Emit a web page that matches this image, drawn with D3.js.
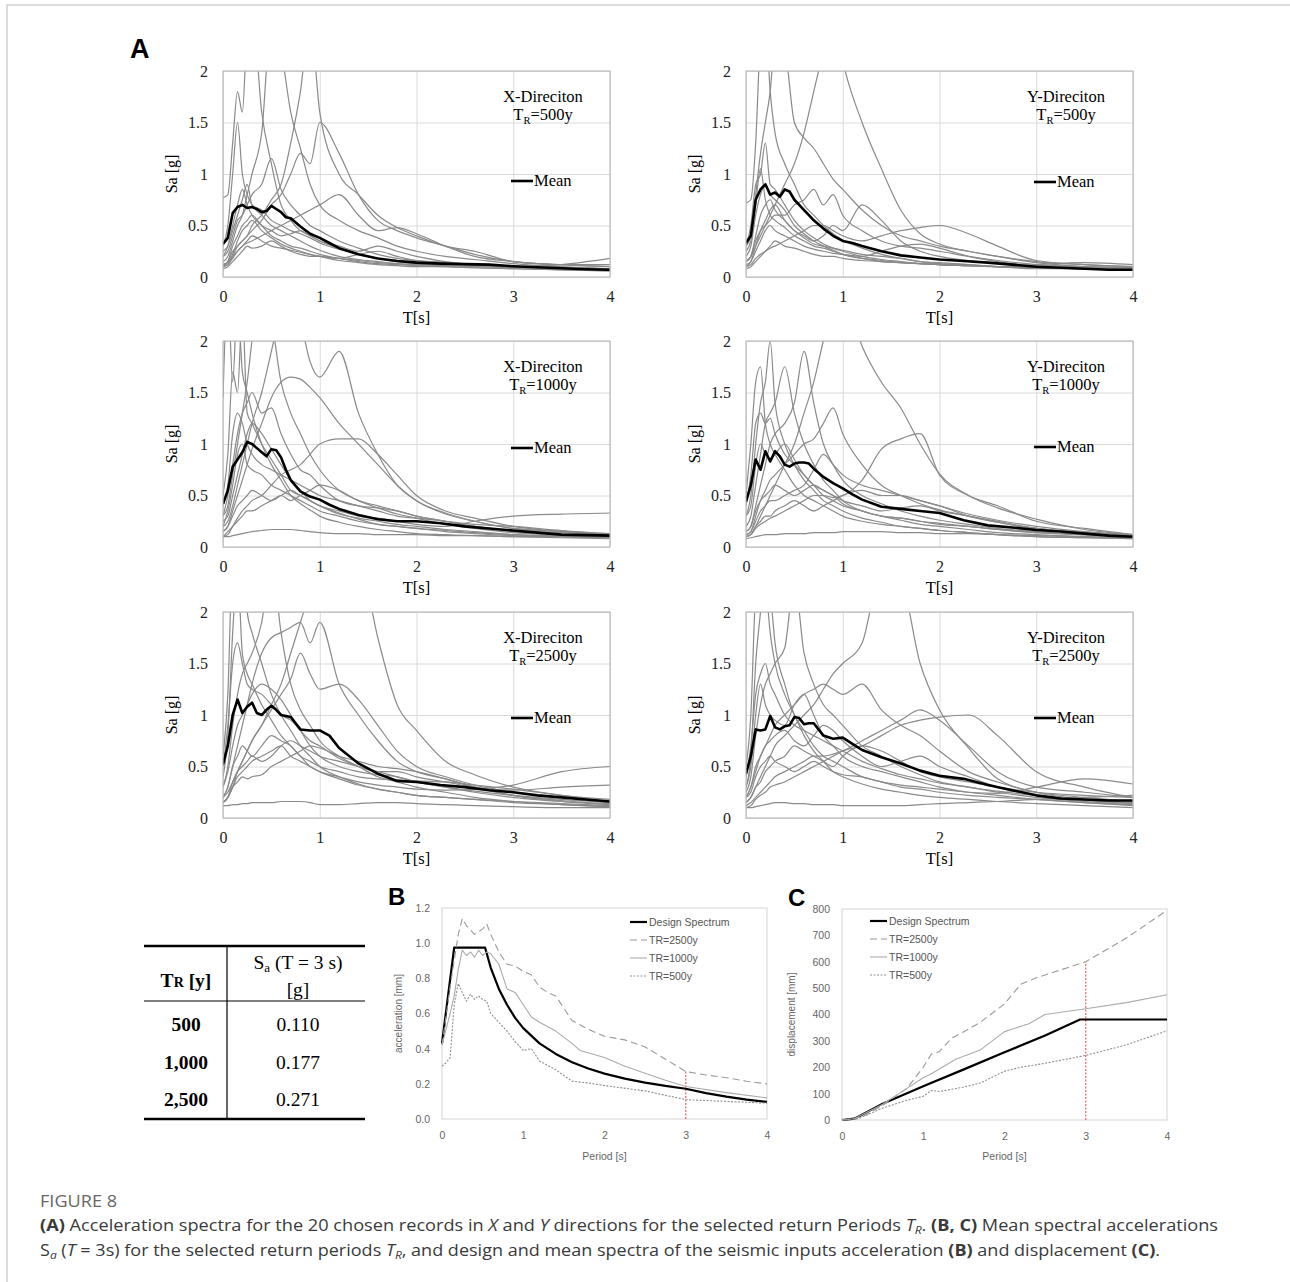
<!DOCTYPE html>
<html>
<head>
<meta charset="utf-8">
<script src="https://cdn.jsdelivr.net/npm/d3@7"></script>
<style>
  body { margin: 0; background: #fff; }
  svg { display: block; }
</style>
</head>
<body>
<svg id="fig" width="1290" height="1282"></svg>
<script>
// ---------- panel A: response spectra of the 20 records (subset traced) ----------
var periods = [0, 0.05, 0.1, 0.15, 0.2, 0.25, 0.3, 0.4, 0.5, 0.6, 0.7, 0.8, 0.9, 1.0, 1.2, 1.4, 1.6, 1.8, 2.0, 2.3, 2.6, 3.0, 3.5, 4.0];
var meanPeriods = [0, 0.05, 0.1, 0.15, 0.2, 0.25, 0.3, 0.35, 0.4, 0.45, 0.5, 0.55, 0.6, 0.65, 0.7, 0.8, 0.9, 1.0, 1.1, 1.2, 1.4, 1.6, 1.8, 2.0, 2.25, 2.5, 2.75, 3.0, 3.25, 3.5, 3.75, 4.0];
var saTicks = [0, 0.5, 1, 1.5, 2];
var tTicks = [0, 1, 2, 3, 4];

var meanX500 = [0.32, 0.38, 0.62, 0.68, 0.7, 0.67, 0.68, 0.66, 0.63, 0.64, 0.69, 0.66, 0.63, 0.58, 0.57, 0.49, 0.42, 0.38, 0.33, 0.28, 0.22, 0.18, 0.155, 0.14, 0.13, 0.125, 0.12, 0.105, 0.095, 0.085, 0.075, 0.07];
var meanY500 = [0.33, 0.4, 0.75, 0.85, 0.9, 0.8, 0.82, 0.78, 0.85, 0.83, 0.75, 0.7, 0.65, 0.6, 0.55, 0.47, 0.4, 0.35, 0.33, 0.3, 0.25, 0.21, 0.19, 0.17, 0.155, 0.14, 0.12, 0.1, 0.09, 0.08, 0.07, 0.07];
var meanX1000 = [0.42, 0.55, 0.78, 0.85, 0.92, 1.02, 1.0, 0.96, 0.92, 0.88, 0.95, 0.94, 0.87, 0.75, 0.65, 0.54, 0.49, 0.46, 0.41, 0.37, 0.31, 0.27, 0.25, 0.25, 0.23, 0.2, 0.18, 0.16, 0.14, 0.12, 0.115, 0.11];
var meanY1000 = [0.44, 0.6, 0.85, 0.75, 0.93, 0.83, 0.93, 0.88, 0.8, 0.78, 0.81, 0.82, 0.82, 0.81, 0.76, 0.68, 0.62, 0.57, 0.51, 0.46, 0.39, 0.37, 0.35, 0.33, 0.26, 0.21, 0.19, 0.165, 0.15, 0.13, 0.11, 0.1];
var meanX2500 = [0.52, 0.7, 1.0, 1.15, 1.02, 1.08, 1.12, 1.02, 1.0, 1.05, 1.09, 1.05, 1.0, 0.99, 0.98, 0.86, 0.85, 0.85, 0.8, 0.68, 0.53, 0.43, 0.36, 0.35, 0.32, 0.3, 0.27, 0.25, 0.22, 0.2, 0.18, 0.16];
var meanY2500 = [0.43, 0.6, 0.86, 0.85, 0.86, 0.99, 0.88, 0.86, 0.89, 0.9, 0.98, 0.97, 0.91, 0.92, 0.92, 0.8, 0.77, 0.78, 0.72, 0.66, 0.59, 0.53, 0.46, 0.41, 0.38, 0.32, 0.27, 0.22, 0.19, 0.18, 0.17, 0.17];

var recordsX500 = [
  [0.77, 0.8, 1.3, 1.8, 1.6, 2.4, 2.6, 1.6, 1.1, 0.7, 0.55, 0.45, 0.4, 0.35, 0.28, 0.22, 0.18, 0.15, 0.13, 0.12, 0.11, 0.1, 0.09, 0.08],
  [0.3, 0.5, 1.0, 1.5, 1.0, 0.8, 0.7, 0.6, 0.5, 0.45, 0.4, 0.35, 0.3, 0.26, 0.2, 0.17, 0.15, 0.13, 0.12, 0.11, 0.1, 0.09, 0.08, 0.07],
  [0.15, 0.2, 0.35, 0.5, 0.6, 0.8, 1.0, 1.4, 2.5, 2.2, 1.6, 1.25, 0.9, 0.7, 0.55, 0.45, 0.38, 0.3, 0.25, 0.2, 0.17, 0.13, 0.1, 0.08],
  [0.1, 0.12, 0.2, 0.3, 0.35, 0.4, 0.45, 0.55, 0.7, 0.8, 1.0, 1.2, 1.1, 1.5, 1.2, 0.8, 0.55, 0.45, 0.38, 0.3, 0.22, 0.15, 0.12, 0.1],
  [0.12, 0.15, 0.25, 0.3, 0.35, 0.4, 0.5, 0.6, 0.75, 0.9, 1.3, 1.8, 2.5, 1.6, 1.0, 0.8, 0.6, 0.48, 0.4, 0.3, 0.25, 0.15, 0.12, 0.1],
  [0.2, 0.25, 0.4, 0.55, 0.6, 0.7, 0.8, 0.9, 1.15, 0.85, 0.7, 0.6, 0.5, 0.45, 0.35, 0.28, 0.22, 0.18, 0.16, 0.14, 0.12, 0.1, 0.09, 0.08],
  [0.12, 0.14, 0.2, 0.25, 0.3, 0.33, 0.35, 0.4, 0.45, 0.5, 0.55, 0.6, 0.65, 0.7, 0.8, 0.6, 0.45, 0.48, 0.42, 0.3, 0.2, 0.15, 0.12, 0.12],
  [0.2, 0.3, 0.5, 0.7, 0.85, 0.7, 0.6, 0.5, 0.4, 0.35, 0.3, 0.28, 0.25, 0.22, 0.18, 0.15, 0.13, 0.12, 0.11, 0.1, 0.09, 0.08, 0.07, 0.06],
  [0.1, 0.15, 0.3, 0.4, 0.5, 0.55, 0.6, 0.5, 0.45, 0.4, 0.42, 0.45, 0.4, 0.35, 0.3, 0.25, 0.3, 0.25, 0.2, 0.15, 0.12, 0.1, 0.08, 0.07],
  [0.08, 0.1, 0.15, 0.2, 0.25, 0.3, 0.28, 0.3, 0.35, 0.3, 0.25, 0.22, 0.2, 0.2, 0.18, 0.16, 0.14, 0.13, 0.12, 0.12, 0.11, 0.1, 0.12, 0.18],
  [0.12, 0.14, 0.22, 0.35, 0.45, 0.5, 0.55, 0.45, 0.38, 0.32, 0.28, 0.25, 0.22, 0.2, 0.16, 0.14, 0.12, 0.11, 0.1, 0.1, 0.09, 0.08, 0.07, 0.06],
  [0.25, 0.3, 0.45, 0.6, 0.75, 0.9, 0.7, 0.65, 0.55, 0.5, 0.45, 0.42, 0.38, 0.33, 0.27, 0.22, 0.18, 0.16, 0.15, 0.13, 0.12, 0.1, 0.09, 0.08],
  [0.1, 0.12, 0.18, 0.25, 0.3, 0.35, 0.4, 0.35, 0.3, 0.28, 0.26, 0.24, 0.22, 0.2, 0.18, 0.22, 0.25, 0.2, 0.16, 0.14, 0.12, 0.1, 0.09, 0.08]
];
var recordsY500 = [
  [0.72, 0.75, 1.3, 2.3, 2.5, 1.8, 1.4, 1.1, 0.9, 0.7, 0.6, 0.5, 0.42, 0.36, 0.28, 0.22, 0.18, 0.15, 0.13, 0.12, 0.1, 0.09, 0.08, 0.07],
  [0.3, 0.4, 0.8, 1.2, 1.5, 1.8, 2.3, 2.2, 1.5, 1.35, 1.25, 1.1, 0.95, 0.85, 0.65, 0.5, 0.4, 0.35, 0.3, 0.25, 0.2, 0.14, 0.1, 0.08],
  [0.15, 0.2, 0.3, 0.4, 0.5, 0.6, 0.7, 0.9, 1.1, 1.4, 1.8, 2.2, 2.6, 2.1, 1.5, 1.05, 0.65, 0.42, 0.32, 0.25, 0.2, 0.15, 0.12, 0.1],
  [0.3, 0.5, 0.9, 1.0, 1.3, 0.9, 0.85, 0.7, 0.55, 0.45, 0.38, 0.32, 0.28, 0.25, 0.2, 0.17, 0.15, 0.13, 0.12, 0.11, 0.1, 0.09, 0.08, 0.07],
  [0.15, 0.2, 0.35, 0.45, 0.5, 0.55, 0.6, 0.6, 0.7, 0.75, 0.85, 0.7, 0.8, 0.6, 0.45, 0.35, 0.3, 0.28, 0.25, 0.2, 0.16, 0.12, 0.1, 0.09],
  [0.1, 0.12, 0.18, 0.22, 0.25, 0.28, 0.3, 0.35, 0.4, 0.45, 0.5, 0.5, 0.45, 0.4, 0.35, 0.4, 0.45, 0.48, 0.5, 0.42, 0.3, 0.16, 0.12, 0.1],
  [0.2, 0.3, 0.6, 0.8, 0.9, 0.8, 0.75, 0.65, 0.5, 0.42, 0.35, 0.3, 0.26, 0.22, 0.18, 0.15, 0.14, 0.13, 0.12, 0.11, 0.1, 0.08, 0.08, 0.07],
  [0.1, 0.15, 0.3, 0.45, 0.55, 0.65, 0.7, 0.55, 0.45, 0.4, 0.35, 0.4, 0.5, 0.45, 0.7, 0.55, 0.35, 0.25, 0.2, 0.16, 0.13, 0.1, 0.09, 0.08],
  [0.08, 0.1, 0.15, 0.2, 0.25, 0.3, 0.35, 0.3, 0.28, 0.25, 0.22, 0.2, 0.2, 0.18, 0.16, 0.15, 0.14, 0.13, 0.12, 0.11, 0.1, 0.12, 0.14, 0.12],
  [0.15, 0.2, 0.4, 0.6, 0.7, 0.75, 0.65, 0.55, 0.45, 0.38, 0.32, 0.3, 0.28, 0.26, 0.22, 0.2, 0.18, 0.15, 0.14, 0.12, 0.1, 0.09, 0.08, 0.07],
  [0.12, 0.15, 0.25, 0.35, 0.45, 0.5, 0.45, 0.4, 0.35, 0.3, 0.27, 0.25, 0.23, 0.22, 0.2, 0.25, 0.3, 0.32, 0.28, 0.2, 0.15, 0.11, 0.1, 0.09],
  [0.25, 0.35, 0.7, 1.05, 0.75, 0.6, 0.55, 0.48, 0.4, 0.35, 0.3, 0.28, 0.25, 0.22, 0.18, 0.16, 0.14, 0.13, 0.12, 0.11, 0.1, 0.09, 0.08, 0.07]
];
var recordsX1000 = [
  [1.45, 2.5, 1.6, 2.4, 1.7, 1.5, 1.3, 1.0, 0.8, 0.65, 0.5, 0.42, 0.36, 0.3, 0.24, 0.2, 0.17, 0.15, 0.13, 0.12, 0.11, 0.1, 0.09, 0.08],
  [0.5, 0.9, 1.7, 1.5, 2.3, 1.3, 1.2, 1.0, 0.85, 0.7, 0.55, 0.5, 0.45, 0.4, 0.33, 0.27, 0.22, 0.2, 0.18, 0.15, 0.13, 0.11, 0.1, 0.09],
  [0.3, 0.4, 0.7, 1.0, 1.3, 1.6, 2.0, 2.4, 2.2, 1.6, 1.3, 1.1, 0.9, 0.75, 0.55, 0.45, 0.38, 0.32, 0.28, 0.22, 0.18, 0.14, 0.12, 0.1],
  [0.2, 0.25, 0.4, 0.6, 0.8, 1.0, 1.2, 1.5, 1.9, 2.3, 2.5, 2.2, 1.8, 1.65, 1.9, 1.3, 0.9, 0.6, 0.45, 0.32, 0.25, 0.18, 0.15, 0.12],
  [0.15, 0.2, 0.35, 0.5, 0.65, 0.8, 0.95, 1.2, 1.45, 1.6, 1.65, 1.63, 1.55, 1.45, 1.2, 1.0, 0.8, 0.6, 0.45, 0.33, 0.25, 0.18, 0.15, 0.13],
  [0.1, 0.12, 0.2, 0.28, 0.35, 0.4, 0.45, 0.5, 0.6, 0.7, 0.75, 0.8, 0.9, 1.0, 1.05, 1.05, 0.9, 0.7, 0.5, 0.35, 0.28, 0.2, 0.15, 0.12],
  [0.4, 0.6, 1.1, 1.3, 1.2, 1.0, 0.9, 0.8, 0.75, 0.7, 0.65, 0.6, 0.55, 0.5, 0.45, 0.4, 0.35, 0.3, 0.28, 0.25, 0.22, 0.2, 0.16, 0.13],
  [0.1, 0.1, 0.11, 0.12, 0.13, 0.14, 0.15, 0.16, 0.17, 0.17, 0.17, 0.16, 0.15, 0.14, 0.13, 0.13, 0.12, 0.12, 0.12, 0.11, 0.11, 0.1, 0.1, 0.1],
  [0.15, 0.2, 0.3, 0.4, 0.45, 0.5, 0.55, 0.5, 0.45, 0.5, 0.55, 0.5, 0.45, 0.4, 0.35, 0.3, 0.28, 0.25, 0.22, 0.2, 0.25, 0.3, 0.32, 0.33],
  [0.25, 0.3, 0.5, 0.7, 0.9, 1.1, 1.2, 1.1, 0.95, 0.8, 0.65, 0.55, 0.45, 0.4, 0.32, 0.28, 0.25, 0.22, 0.2, 0.17, 0.15, 0.12, 0.1, 0.09],
  [0.1, 0.15, 0.2, 0.25, 0.3, 0.35, 0.35, 0.4, 0.45, 0.5, 0.45, 0.5, 0.55, 0.6, 0.55, 0.45, 0.4, 0.35, 0.3, 0.25, 0.2, 0.16, 0.14, 0.12],
  [0.2, 0.35, 0.6, 0.9, 1.0, 0.8, 0.75, 0.7, 0.6, 0.55, 0.5, 0.45, 0.4, 0.35, 0.3, 0.25, 0.22, 0.2, 0.18, 0.16, 0.14, 0.12, 0.11, 0.1],
  [0.3, 0.5, 0.8, 1.1, 1.3, 1.4, 1.5, 1.3, 1.35, 1.1, 0.9, 0.75, 0.7, 0.6, 0.45, 0.4, 0.38, 0.35, 0.3, 0.25, 0.2, 0.15, 0.12, 0.1]
];
var recordsY1000 = [
  [0.3, 0.5, 1.0, 1.4, 1.6, 2.0, 1.4, 1.0, 0.8, 0.65, 0.55, 0.45, 0.4, 0.35, 0.28, 0.24, 0.2, 0.18, 0.16, 0.14, 0.12, 0.1, 0.09, 0.08],
  [0.5, 1.0, 1.6, 1.75, 1.2, 1.0, 0.9, 0.75, 0.6, 0.5, 0.45, 0.4, 0.35, 0.3, 0.25, 0.22, 0.2, 0.18, 0.16, 0.14, 0.12, 0.1, 0.09, 0.08],
  [0.2, 0.3, 0.6, 0.9, 1.2, 1.3, 1.4, 1.75, 1.3, 1.0, 0.8, 0.65, 0.55, 0.45, 0.35, 0.3, 0.26, 0.22, 0.2, 0.17, 0.14, 0.12, 0.1, 0.09],
  [0.15, 0.2, 0.4, 0.6, 0.8, 1.0, 1.1, 1.2, 1.4, 1.9, 1.4, 1.0, 0.8, 0.65, 0.5, 0.42, 0.35, 0.3, 0.26, 0.22, 0.18, 0.15, 0.12, 0.1],
  [0.12, 0.15, 0.3, 0.45, 0.55, 0.65, 0.7, 0.8, 0.9, 1.0, 1.05, 1.2, 1.35, 1.1, 0.8, 0.6, 0.5, 0.42, 0.36, 0.3, 0.24, 0.18, 0.14, 0.11],
  [0.1, 0.12, 0.2, 0.3, 0.4, 0.5, 0.6, 0.8, 1.0, 1.3, 1.6, 2.0, 2.3, 2.5, 1.95, 1.6, 1.35, 1.0, 0.71, 0.5, 0.38, 0.27, 0.17, 0.12],
  [0.1, 0.12, 0.18, 0.22, 0.25, 0.28, 0.3, 0.35, 0.4, 0.45, 0.5, 0.5, 0.48, 0.5, 0.65, 0.95, 1.05, 1.1, 0.7, 0.5, 0.4, 0.25, 0.18, 0.12],
  [0.08, 0.09, 0.1, 0.11, 0.12, 0.12, 0.12, 0.13, 0.13, 0.13, 0.14, 0.14, 0.14, 0.15, 0.15, 0.15, 0.14, 0.14, 0.13, 0.13, 0.12, 0.11, 0.1, 0.09],
  [0.4, 0.7, 1.2, 1.3, 1.2, 1.25, 1.1, 0.9, 0.8, 0.7, 0.6, 0.5, 0.45, 0.4, 0.35, 0.3, 0.28, 0.25, 0.22, 0.2, 0.17, 0.14, 0.12, 0.1],
  [0.15, 0.2, 0.35, 0.45, 0.5, 0.55, 0.6, 0.55, 0.5, 0.55, 0.6, 0.55, 0.5, 0.45, 0.4, 0.35, 0.38, 0.4, 0.35, 0.3, 0.25, 0.18, 0.14, 0.11],
  [0.1, 0.12, 0.2, 0.25, 0.3, 0.3, 0.35, 0.4, 0.45, 0.4, 0.35, 0.4, 0.45, 0.5, 0.55, 0.5, 0.5, 0.45, 0.4, 0.32, 0.26, 0.2, 0.15, 0.12],
  [0.3, 0.4, 0.8, 1.0, 0.9, 0.85, 0.9, 1.0, 0.85, 0.7, 0.6, 0.55, 0.5, 0.42, 0.35, 0.3, 0.28, 0.25, 0.23, 0.2, 0.17, 0.14, 0.12, 0.1],
  [0.12, 0.15, 0.25, 0.35, 0.4, 0.45, 0.45, 0.5, 0.55, 0.6, 0.75, 0.9, 0.8, 0.7, 0.6, 0.55, 0.5, 0.45, 0.4, 0.3, 0.24, 0.18, 0.14, 0.11]
];
var recordsX2500 = [
  [0.6, 1.2, 2.5, 2.2, 2.6, 2.0, 1.8, 1.5, 1.2, 1.0, 0.85, 0.7, 0.6, 0.5, 0.4, 0.33, 0.28, 0.25, 0.22, 0.2, 0.18, 0.15, 0.13, 0.11],
  [0.4, 0.8, 1.8, 2.4, 1.6, 1.4, 1.3, 1.1, 0.95, 0.8, 0.7, 0.6, 0.5, 0.45, 0.38, 0.32, 0.28, 0.25, 0.22, 0.2, 0.18, 0.16, 0.14, 0.12],
  [0.3, 0.5, 0.9, 1.2, 1.4, 1.5, 1.6, 1.9, 2.5, 1.8, 1.3, 1.05, 0.9, 0.75, 0.6, 0.5, 0.4, 0.35, 0.3, 0.25, 0.2, 0.16, 0.13, 0.11],
  [0.2, 0.3, 0.5, 0.7, 0.9, 1.1, 1.3, 1.6, 1.75, 1.8, 1.85, 1.9, 1.7, 1.9, 1.3, 1.0, 0.75, 0.55, 0.45, 0.38, 0.3, 0.22, 0.16, 0.13],
  [0.15, 0.2, 0.35, 0.45, 0.55, 0.65, 0.75, 0.9, 1.1, 1.3, 1.6, 1.9, 2.2, 2.5, 2.8, 2.6, 1.75, 1.1, 0.85, 0.55, 0.42, 0.3, 0.22, 0.16],
  [0.15, 0.2, 0.3, 0.45, 0.55, 0.65, 0.75, 0.9, 1.05, 1.2, 1.35, 1.6, 1.4, 1.25, 1.3, 1.15, 0.9, 0.65, 0.5, 0.4, 0.32, 0.25, 0.2, 0.15],
  [0.15, 0.2, 0.3, 0.4, 0.45, 0.5, 0.55, 0.6, 0.65, 0.7, 0.6, 0.55, 0.5, 0.45, 0.4, 0.35, 0.32, 0.3, 0.28, 0.27, 0.28, 0.32, 0.45, 0.5],
  [0.12, 0.12, 0.13, 0.13, 0.14, 0.14, 0.15, 0.15, 0.15, 0.16, 0.16, 0.16, 0.15, 0.13, 0.13, 0.14, 0.15, 0.15, 0.14, 0.13, 0.12, 0.11, 0.1, 0.1],
  [0.2, 0.25, 0.35, 0.45, 0.5, 0.55, 0.6, 0.55, 0.6, 0.7, 0.75, 0.7, 0.65, 0.6, 0.55, 0.5, 0.45, 0.45, 0.4, 0.35, 0.3, 0.27, 0.3, 0.32],
  [0.5, 0.9, 1.5, 1.7, 1.5, 1.3, 1.25, 1.2, 1.1, 1.0, 0.95, 0.85, 0.75, 0.7, 0.58, 0.5, 0.45, 0.4, 0.35, 0.3, 0.25, 0.2, 0.16, 0.14],
  [0.15, 0.2, 0.3, 0.35, 0.4, 0.38, 0.4, 0.42, 0.5, 0.55, 0.6, 0.65, 0.7, 0.68, 0.6, 0.55, 0.5, 0.48, 0.45, 0.38, 0.3, 0.22, 0.17, 0.13],
  [0.3, 0.45, 0.7, 0.9, 1.0, 1.1, 1.2, 1.3, 1.25, 1.15, 1.0, 0.85, 0.7, 0.6, 0.5, 0.45, 0.42, 0.4, 0.35, 0.3, 0.26, 0.22, 0.18, 0.15],
  [0.2, 0.3, 0.5, 0.6, 0.7, 0.65, 0.6, 0.7, 0.8, 0.75, 0.7, 0.6, 0.55, 0.5, 0.45, 0.4, 0.38, 0.37, 0.36, 0.35, 0.32, 0.28, 0.22, 0.18]
];
var recordsY2500 = [
  [0.5, 1.0, 2.2, 2.5, 2.3, 1.8, 1.5, 1.2, 1.0, 0.8, 0.65, 0.55, 0.45, 0.4, 0.33, 0.28, 0.25, 0.22, 0.2, 0.18, 0.16, 0.14, 0.12, 0.1],
  [0.3, 0.6, 1.5, 2.0, 2.5, 2.2, 1.7, 1.3, 1.0, 0.85, 0.7, 0.6, 0.55, 0.5, 0.4, 0.35, 0.3, 0.28, 0.25, 0.22, 0.2, 0.18, 0.15, 0.13],
  [0.25, 0.4, 0.8, 1.1, 1.3, 1.4, 1.5, 1.65, 2.3, 1.6, 1.3, 1.1, 1.0, 0.9, 0.7, 0.6, 0.5, 0.42, 0.35, 0.3, 0.25, 0.2, 0.16, 0.13],
  [0.15, 0.2, 0.3, 0.4, 0.5, 0.6, 0.7, 0.8, 0.9, 1.0, 1.1, 1.25, 1.4, 1.5, 1.7, 2.4, 2.3, 1.5, 1.05, 0.68, 0.38, 0.25, 0.18, 0.14],
  [0.1, 0.12, 0.18, 0.22, 0.25, 0.3, 0.32, 0.35, 0.4, 0.45, 0.5, 0.55, 0.6, 0.65, 0.7, 0.8, 0.9, 0.95, 0.98, 1.0, 0.8, 0.45, 0.3, 0.2],
  [0.2, 0.3, 0.45, 0.6, 0.7, 0.8, 0.9, 1.0, 1.1, 1.2, 1.25, 1.3, 1.25, 1.2, 1.3, 1.05, 0.9, 0.8, 0.65, 0.45, 0.35, 0.25, 0.2, 0.16],
  [0.12, 0.15, 0.2, 0.25, 0.3, 0.35, 0.4, 0.45, 0.5, 0.55, 0.6, 0.6, 0.62, 0.65, 0.75, 0.85, 0.95, 1.05, 0.95, 0.7, 0.45, 0.3, 0.25, 0.2],
  [0.1, 0.1, 0.11, 0.12, 0.13, 0.14, 0.15, 0.15, 0.14, 0.14, 0.13, 0.13, 0.13, 0.12, 0.12, 0.12, 0.12, 0.13, 0.14, 0.15, 0.16, 0.18, 0.2, 0.22],
  [0.2, 0.25, 0.4, 0.5, 0.55, 0.6, 0.55, 0.5, 0.45, 0.5, 0.55, 0.5, 0.45, 0.42, 0.4, 0.35, 0.32, 0.3, 0.28, 0.25, 0.24, 0.3, 0.38, 0.33],
  [0.4, 0.7, 1.2, 1.4, 1.5, 1.3, 1.2, 1.0, 0.9, 0.85, 0.8, 0.75, 0.7, 0.65, 0.55, 0.48, 0.42, 0.38, 0.34, 0.3, 0.26, 0.22, 0.18, 0.15],
  [0.2, 0.3, 0.5, 0.6, 0.7, 0.75, 0.8, 0.85, 0.75, 0.7, 0.8, 0.9, 0.85, 0.75, 0.6, 0.5, 0.55, 0.6, 0.5, 0.4, 0.3, 0.22, 0.17, 0.14],
  [0.15, 0.2, 0.3, 0.35, 0.45, 0.5, 0.55, 0.6, 0.7, 0.65, 0.6, 0.55, 0.5, 0.6, 0.7, 0.65, 0.55, 0.45, 0.4, 0.35, 0.3, 0.25, 0.22, 0.2],
  [0.3, 0.5, 1.0, 1.3, 1.1, 1.0, 0.95, 0.9, 1.1, 1.2, 1.0, 0.8, 0.7, 0.6, 0.5, 0.45, 0.4, 0.35, 0.3, 0.25, 0.22, 0.18, 0.15, 0.12]
];

// ---------- panel B: mean and design acceleration spectra ----------
var accTicks = [0, 0.2, 0.4, 0.6, 0.8, 1.0, 1.2];
var designAccT = [0, 0.15, 0.53, 0.6, 0.7, 0.8, 0.9, 1.0, 1.2, 1.4, 1.6, 1.8, 2.0, 2.25, 2.5, 2.75, 3.0, 3.25, 3.5, 3.75, 4.0];
var designAcc = [0.43, 0.975, 0.975, 0.86, 0.74, 0.65, 0.575, 0.517, 0.43, 0.37, 0.323, 0.287, 0.258, 0.23, 0.207, 0.188, 0.172, 0.147, 0.127, 0.11, 0.097];
var acc2500T = [0, 0.1, 0.2, 0.25, 0.3, 0.4, 0.5, 0.55, 0.6, 0.7, 0.8, 0.9, 1.0, 1.1, 1.2, 1.3, 1.4, 1.6, 1.8, 2.0, 2.25, 2.5, 2.75, 3.0, 3.25, 3.5, 3.75, 4.0];
var acc2500 = [0.42, 0.75, 1.05, 1.14, 1.1, 1.05, 1.08, 1.11, 1.05, 0.95, 0.88, 0.87, 0.84, 0.82, 0.75, 0.72, 0.7, 0.56, 0.51, 0.47, 0.45, 0.41, 0.34, 0.27, 0.25, 0.235, 0.215, 0.2];
var acc1000T = [0, 0.1, 0.15, 0.2, 0.25, 0.3, 0.35, 0.4, 0.45, 0.5, 0.55, 0.6, 0.7, 0.8, 0.9, 1.0, 1.1, 1.2, 1.4, 1.6, 1.7, 2.0, 2.25, 2.5, 2.75, 3.0, 3.5, 4.0];
var acc1000 = [0.42, 0.6, 0.7, 0.85, 0.96, 0.93, 0.95, 0.92, 0.96, 0.93, 0.95, 0.94, 0.88, 0.74, 0.72, 0.65, 0.58, 0.55, 0.5, 0.43, 0.39, 0.35, 0.3, 0.26, 0.22, 0.185, 0.15, 0.12];
var acc500T = [0, 0.05, 0.1, 0.15, 0.2, 0.25, 0.3, 0.35, 0.4, 0.45, 0.5, 0.55, 0.6, 0.7, 0.8, 0.9, 1.0, 1.1, 1.2, 1.4, 1.6, 1.8, 2.0, 2.5, 3.0, 3.5, 4.0];
var acc500 = [0.3, 0.32, 0.35, 0.65, 0.77, 0.72, 0.67, 0.71, 0.68, 0.7, 0.68, 0.67, 0.6, 0.55, 0.5, 0.44, 0.39, 0.4, 0.33, 0.28, 0.215, 0.205, 0.19, 0.16, 0.11, 0.1, 0.09];

// ---------- panel C: mean and design displacement spectra ----------
var dispTicks = [0, 100, 200, 300, 400, 500, 600, 700, 800];
var designDispT = [0, 0.1, 0.15, 0.2, 0.5, 0.6, 1.0, 1.5, 2.0, 2.5, 2.93, 3.0, 4.0];
var designDisp = [0, 3, 5, 12, 62, 75, 128, 192, 257, 320, 381, 381, 381];
var disp2500T = [0, 0.15, 0.3, 0.5, 0.7, 0.8, 1.0, 1.1, 1.2, 1.35, 1.5, 1.7, 2.0, 2.2, 2.4, 2.6, 3.0, 3.5, 4.0];
var disp2500 = [0, 5, 20, 55, 100, 120, 200, 250, 260, 310, 335, 370, 440, 515, 540, 560, 600, 690, 795];
var disp1000T = [0, 0.15, 0.5, 0.7, 1.0, 1.1, 1.4, 1.7, 2.0, 2.3, 2.5, 3.0, 3.5, 4.0];
var disp1000 = [0, 5, 60, 100, 160, 175, 230, 265, 335, 365, 400, 422, 445, 475];
var disp500T = [0, 0.2, 0.5, 0.8, 1.0, 1.1, 1.2, 1.5, 1.7, 2.0, 2.2, 2.5, 3.0, 3.5, 4.0];
var disp500 = [0, 5, 45, 75, 90, 112, 108, 125, 140, 185, 200, 215, 245, 285, 338];

// ---------- table ----------
var returnPeriods = ["500", "1,000", "2,500"];
var saAt3s = ["0.110", "0.177", "0.271"];

var svg = d3.select("#fig");
var serif = "'Liberation Serif', 'Times New Roman', serif";
var sans = "'Liberation Sans', Arial, sans-serif";

// outer frame of the figure card
svg.append("path").attr("d", "M7,1282 V5 H1290").attr("fill", "none")
  .attr("stroke", "#cfcfcf").attr("stroke-width", 1.5);

svg.append("text").attr("x", 130).attr("y", 58).text("A")
  .attr("font-family", sans).attr("font-weight", "bold").attr("font-size", 27);

var panels = [
  { id: "x500", left: 223, top: 71, dir: "X", tr: "500", mean: meanX500, recs: recordsX500, legY: 110 },
  { id: "y500", left: 746, top: 71, dir: "Y", tr: "500", mean: meanY500, recs: recordsY500, legY: 111 },
  { id: "x1000", left: 223, top: 341, dir: "X", tr: "1000", mean: meanX1000, recs: recordsX1000, legY: 107 },
  { id: "y1000", left: 746, top: 341, dir: "Y", tr: "1000", mean: meanY1000, recs: recordsY1000, legY: 106 },
  { id: "x2500", left: 223, top: 612, dir: "X", tr: "2500", mean: meanX2500, recs: recordsX2500, legY: 106 },
  { id: "y2500", left: 746, top: 612, dir: "Y", tr: "2500", mean: meanY2500, recs: recordsY2500, legY: 106 }
];

panels.forEach(function (p) {
  var w = 387, h = 206;
  var x = d3.scaleLinear().domain([0, 4]).range([p.left, p.left + w]);
  var y = d3.scaleLinear().domain([0, 2]).range([p.top + h, p.top]);
  var g = svg.append("g");

  var ya = g.append("g").attr("transform", "translate(" + p.left + ",0)")
    .call(d3.axisLeft(y).tickValues(saTicks).tickSize(-w).tickPadding(15).tickFormat(d3.format("")));
  var xa = g.append("g").attr("transform", "translate(0," + (p.top + h) + ")")
    .call(d3.axisBottom(x).tickValues(tTicks).tickSize(-h).tickPadding(14).tickFormat(d3.format("")));
  [ya, xa].forEach(function (a) {
    a.select(".domain").remove();
    a.selectAll("line").attr("stroke", "#dadada");
    a.selectAll("text").attr("font-family", serif).attr("font-size", 16).attr("fill", "#222");
  });

  g.append("clipPath").attr("id", "clip-" + p.id).append("rect")
    .attr("x", p.left).attr("y", p.top).attr("width", w).attr("height", h);

  var recLine = d3.line().x(function (d, i) { return x(periods[i]); }).y(function (d) { return y(d); })
    .curve(d3.curveMonotoneX);
  var meanLine = d3.line().x(function (d, i) { return x(meanPeriods[i]); }).y(function (d) { return y(d); });

  var plot = g.append("g").attr("clip-path", "url(#clip-" + p.id + ")");
  plot.selectAll(".rec").data(p.recs).enter().append("path")
    .attr("d", recLine).attr("fill", "none").attr("stroke", "#8a8a8a").attr("stroke-width", 1.2);
  plot.append("path").datum(p.mean).attr("d", meanLine).attr("fill", "none")
    .attr("stroke", "#000").attr("stroke-width", 2.6).attr("stroke-linejoin", "round");

  g.append("rect").attr("x", p.left).attr("y", p.top).attr("width", w).attr("height", h)
    .attr("fill", "none").attr("stroke", "#bdbdbd").attr("stroke-width", 1.2);

  var cx = p.left + w - 67;
  g.append("text").attr("x", cx).attr("y", p.top + 31).attr("text-anchor", "middle")
    .attr("font-family", serif).attr("font-size", 16.5).text(p.dir + "-Direciton");
  var tt = g.append("text").attr("x", cx).attr("y", p.top + 49).attr("text-anchor", "middle")
    .attr("font-family", serif).attr("font-size", 16.5);
  tt.append("tspan").text("T");
  tt.append("tspan").attr("font-size", 10.5).attr("dy", 4).text("R");
  tt.append("tspan").attr("dy", -4).text("=" + p.tr + "y");

  g.append("line").attr("x1", p.left + w - 99).attr("x2", p.left + w - 77)
    .attr("y1", p.top + p.legY).attr("y2", p.top + p.legY).attr("stroke", "#000").attr("stroke-width", 2.6);
  g.append("text").attr("x", p.left + w - 76).attr("y", p.top + p.legY + 5)
    .attr("font-family", serif).attr("font-size", 16.5).text("Mean");

  g.append("text").attr("x", p.left + w / 2).attr("y", p.top + h + 46).attr("text-anchor", "middle")
    .attr("font-family", serif).attr("font-size", 16.5).text("T[s]");
  g.append("text").attr("transform", "translate(" + (p.left - 46) + "," + (p.top + h / 2) + ") rotate(-90)")
    .attr("text-anchor", "middle").attr("font-family", serif).attr("font-size", 16).text("Sa [g]");
});

// ---------- B and C ----------
function smallPanel(o) {
  var x = d3.scaleLinear().domain([0, 4]).range([o.left, o.right]);
  var y = d3.scaleLinear().domain(o.domain).range([o.bottom, o.top]);
  var g = svg.append("g");

  g.append("text").attr("x", o.left - 54).attr("y", o.top - 3).text(o.label)
    .attr("font-family", sans).attr("font-weight", "bold").attr("font-size", 24);

  g.append("rect").attr("x", o.left).attr("y", o.top).attr("width", o.right - o.left)
    .attr("height", o.bottom - o.top).attr("fill", "none").attr("stroke", "#d4d4d4");

  var ya = g.append("g").attr("transform", "translate(" + o.left + ",0)")
    .call(d3.axisLeft(y).tickValues(o.ticks).tickSize(0).tickPadding(12).tickFormat(d3.format(o.fmt)));
  var xa = g.append("g").attr("transform", "translate(0," + o.bottom + ")")
    .call(d3.axisBottom(x).tickValues(tTicks).tickSize(0).tickPadding(13).tickFormat(d3.format("")));
  [ya, xa].forEach(function (a) {
    a.select(".domain").remove();
    a.selectAll("text").attr("font-family", sans).attr("font-size", 10.5).attr("fill", "#666");
  });

  g.append("text").attr("x", (o.left + o.right) / 2).attr("y", 1160).attr("text-anchor", "middle")
    .attr("font-family", sans).attr("font-size", 10.5).attr("fill", "#666").text("Period [s]");
  g.append("text").attr("transform", "translate(" + o.yTitleX + "," + ((o.top + o.bottom) / 2) + ") rotate(-90)")
    .attr("text-anchor", "middle").attr("font-family", sans).attr("font-size", 10).attr("fill", "#666")
    .text(o.yTitle);

  // red marker at T = 3 s
  g.append("line").attr("x1", x(3)).attr("x2", x(3)).attr("y1", y(0)).attr("y2", y(o.mark))
    .attr("stroke", "#ff5a5a").attr("stroke-width", 1.2).attr("stroke-dasharray", "2,1.5");

  o.series.forEach(function (s) {
    var ln = d3.line().x(function (d, i) { return x(s.t[i]); }).y(function (d) { return y(d); });
    g.append("path").datum(s.v).attr("d", ln).attr("fill", "none").attr("stroke", s.color)
      .attr("stroke-width", s.width).attr("stroke-dasharray", s.dash).attr("stroke-linejoin", "round");
  });

  // legend
  o.series.forEach(function (s, i) {
    var ly = o.legTop + i * 18;
    g.append("line").attr("x1", o.legX).attr("x2", o.legX + 17).attr("y1", ly).attr("y2", ly)
      .attr("stroke", s.color).attr("stroke-width", s.width).attr("stroke-dasharray", s.dash);
    g.append("text").attr("x", o.legX + 19).attr("y", ly + 3.5).attr("font-family", sans)
      .attr("font-size", 10.5).attr("fill", "#555").text(s.name);
  });
}

var legendNames = ["Design Spectrum", "TR=2500y", "TR=1000y", "TR=500y"];

smallPanel({
  label: "B", left: 442, right: 767, top: 908, bottom: 1119, domain: [0, 1.2], ticks: accTicks, fmt: ".1f",
  yTitle: "acceleration [mm]", yTitleX: 402, mark: 0.27, legX: 630, legTop: 922,
  series: [
    { name: legendNames[0], t: designAccT, v: designAcc, color: "#000", width: 2.2, dash: null },
    { name: legendNames[1], t: acc2500T, v: acc2500, color: "#9a9a9a", width: 1.1, dash: "7,4" },
    { name: legendNames[2], t: acc1000T, v: acc1000, color: "#ababab", width: 1.1, dash: null },
    { name: legendNames[3], t: acc500T, v: acc500, color: "#8f8f8f", width: 1.1, dash: "2,1.5" }
  ]
});

smallPanel({
  label: "C", left: 842, right: 1167, top: 909, bottom: 1120, domain: [0, 800], ticks: dispTicks, fmt: "d",
  yTitle: "displacement [mm]", yTitleX: 795, mark: 600, legX: 870, legTop: 921,
  series: [
    { name: legendNames[0], t: designDispT, v: designDisp, color: "#000", width: 2.2, dash: null },
    { name: legendNames[1], t: disp2500T, v: disp2500, color: "#9a9a9a", width: 1.1, dash: "7,4" },
    { name: legendNames[2], t: disp1000T, v: disp1000, color: "#ababab", width: 1.1, dash: null },
    { name: legendNames[3], t: disp500T, v: disp500, color: "#8f8f8f", width: 1.1, dash: "2,1.5" }
  ]
});

// ---------- table ----------
var tb = svg.append("g").attr("font-family", serif).attr("font-size", 19.5);
tb.append("line").attr("x1", 144).attr("x2", 365).attr("y1", 946).attr("y2", 946).attr("stroke", "#000").attr("stroke-width", 2.6);
tb.append("line").attr("x1", 144).attr("x2", 365).attr("y1", 1001).attr("y2", 1001).attr("stroke", "#000").attr("stroke-width", 1.2);
tb.append("line").attr("x1", 144).attr("x2", 365).attr("y1", 1119).attr("y2", 1119).attr("stroke", "#000").attr("stroke-width", 2.6);
tb.append("line").attr("x1", 227).attr("x2", 227).attr("y1", 946).attr("y2", 1119).attr("stroke", "#000").attr("stroke-width", 1.2);

var h1 = tb.append("text").attr("x", 186).attr("y", 987).attr("text-anchor", "middle").attr("font-weight", "bold");
h1.append("tspan").text("T");
h1.append("tspan").attr("font-size", 14).text("R");
h1.append("tspan").text(" [y]");
var h2 = tb.append("text").attr("x", 298).attr("y", 969).attr("text-anchor", "middle");
h2.append("tspan").text("S");
h2.append("tspan").attr("font-size", 13).attr("dy", 3).text("a");
h2.append("tspan").attr("dy", -3).text(" (T = 3 s)");
tb.append("text").attr("x", 298).attr("y", 996).attr("text-anchor", "middle").text("[g]");

tb.selectAll(".rp").data(returnPeriods).enter().append("text")
  .attr("x", 186).attr("y", function (d, i) { return 1031 + i * 37.5; })
  .attr("text-anchor", "middle").attr("font-weight", "bold").text(function (d) { return d; });
tb.selectAll(".sa").data(saAt3s).enter().append("text")
  .attr("x", 298).attr("y", function (d, i) { return 1031 + i * 37.5; })
  .attr("text-anchor", "middle").text(function (d) { return d; });

// ---------- caption ----------
var capFont = "'Liberation Sans Narrow', 'Open Sans', sans-serif";
svg.append("text").attr("x", 40).attr("y", 1207).attr("font-family", capFont).attr("font-size", 16)
  .attr("fill", "#666").attr("textLength", 77).attr("lengthAdjust", "spacingAndGlyphs").text("FIGURE 8");

var c1 = svg.append("text").attr("x", 40).attr("y", 1231).attr("font-family", capFont).attr("font-size", 16.5)
  .attr("fill", "#3a3a3a").attr("textLength", 1178).attr("lengthAdjust", "spacingAndGlyphs");
c1.append("tspan").attr("font-weight", "bold").text("(A)");
c1.append("tspan").text(" Acceleration spectra for the 20 chosen records in ");
c1.append("tspan").attr("font-style", "italic").text("X");
c1.append("tspan").text(" and ");
c1.append("tspan").attr("font-style", "italic").text("Y");
c1.append("tspan").text(" directions for the selected return Periods ");
c1.append("tspan").attr("font-style", "italic").text("T");
c1.append("tspan").attr("font-style", "italic").attr("font-size", 11).attr("dy", 3).text("R");
c1.append("tspan").attr("dy", -3).text(". ");
c1.append("tspan").attr("font-weight", "bold").text("(B, C)");
c1.append("tspan").text(" Mean spectral accelerations");

var c2 = svg.append("text").attr("x", 40).attr("y", 1256).attr("font-family", capFont).attr("font-size", 16.5)
  .attr("fill", "#3a3a3a").attr("textLength", 1120).attr("lengthAdjust", "spacingAndGlyphs");
c2.append("tspan").text("S");
c2.append("tspan").attr("font-style", "italic").attr("font-size", 11).attr("dy", 3).text("a");
c2.append("tspan").attr("dy", -3).text(" (");
c2.append("tspan").attr("font-style", "italic").text("T");
c2.append("tspan").text(" = 3s) for the selected return periods ");
c2.append("tspan").attr("font-style", "italic").text("T");
c2.append("tspan").attr("font-style", "italic").attr("font-size", 11).attr("dy", 3).text("R");
c2.append("tspan").attr("dy", -3).text(", and design and mean spectra of the seismic inputs acceleration ");
c2.append("tspan").attr("font-weight", "bold").text("(B)");
c2.append("tspan").text(" and displacement ");
c2.append("tspan").attr("font-weight", "bold").text("(C)");
c2.append("tspan").text(".");
</script>
</body>
</html>
